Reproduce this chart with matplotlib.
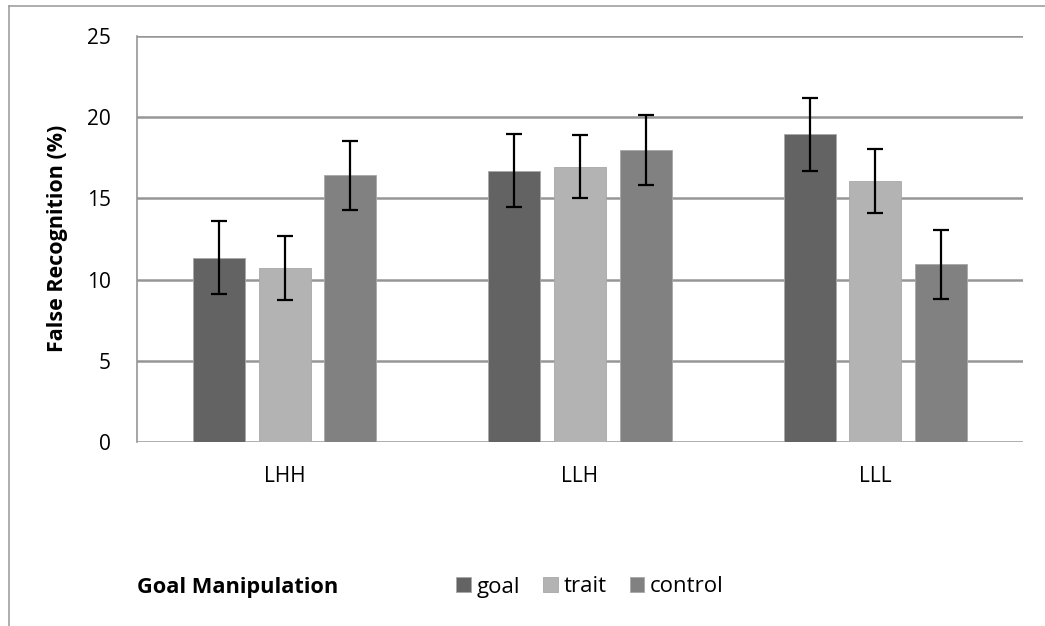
import matplotlib.pyplot as plt
import numpy as np
from matplotlib.lines import Line2D

plt.rcParams['font.family'] = ['Open Sans', 'DejaVu Sans']

groups = ['LHH', 'LLH', 'LLL']
series = ['goal', 'trait', 'control']
values = {
    'goal': [11.35, 16.7, 18.95],
    'trait': [10.72, 16.95, 16.08],
    'control': [16.42, 17.98, 10.93],
}
errors = {
    'goal': [2.25, 2.24, 2.25],
    'trait': [1.96, 1.95, 1.95],
    'control': [2.14, 2.13, 2.13],
}
colors = {'goal': '#636363', 'trait': '#b3b3b3', 'control': '#818181'}
yticks = [0, 5, 10, 15, 20, 25]

W, H = 1045, 626
FS = 15
fig = plt.figure(figsize=(W / 100, H / 100), dpi=100)
ax = fig.add_axes([137 / W, 1 - 442 / H, (1023 - 137) / W, (442 - 36) / H])

x = np.arange(len(groups))
width = 0.176
step = 0.222
handles = []
for i, s in enumerate(series):
    b = ax.bar(x + (i - 1) * step, values[s], width, color=colors[s],
               edgecolor='#a8a8a8', linewidth=0.6, zorder=3, label=s)
    ax.errorbar(x + (i - 1) * step, values[s], yerr=errors[s], fmt='none',
                ecolor='black', elinewidth=1.6, capsize=6, capthick=1.6, zorder=4)
    handles.append(b)

ax.set_xlim(-0.5, 2.5)
ax.set_ylim(0, 25)
ax.set_yticks(yticks)
ax.set_xticks(x)
ax.set_xticklabels(groups)
ax.yaxis.grid(True, color='#969696', linewidth=1.8, zorder=0)
ax.tick_params(axis='both', length=0, labelsize=FS, colors='black')
ax.tick_params(axis='y', pad=19)
ax.tick_params(axis='x', pad=17)
for sp in ['top', 'right', 'bottom']:
    ax.spines[sp].set_visible(False)
ax.spines['left'].set_color('#969696')
ax.spines['left'].set_linewidth(1.2)

fig.text(58 / W, 1 - 238 / H, 'False Recognition (%)', rotation=90,
         fontsize=15.5, fontweight='bold', ha='center', va='center')
fig.text(137 / W, 1 - 588 / H, 'Goal Manipulation', fontsize=15.7,
         fontweight='bold', ha='left', va='center')
fig.legend(handles=handles, labels=series, loc='center left',
           bbox_to_anchor=(456 / W, 1 - 587 / H), ncol=3, frameon=False,
           fontsize=16, handlelength=0.66, handleheight=0.66, handletextpad=0.25,
           columnspacing=1.05, borderaxespad=0, borderpad=0)

# outer chart frame (cropped)
fig.add_artist(Line2D([9 / W, 9 / W], [0, 1 - 6 / H], color='#a0a0a0', linewidth=1.2))
fig.add_artist(Line2D([9 / W, 1], [1 - 6 / H, 1 - 6 / H], color='#a0a0a0', linewidth=1.2))

fig.savefig('out.png', dpi=100)
